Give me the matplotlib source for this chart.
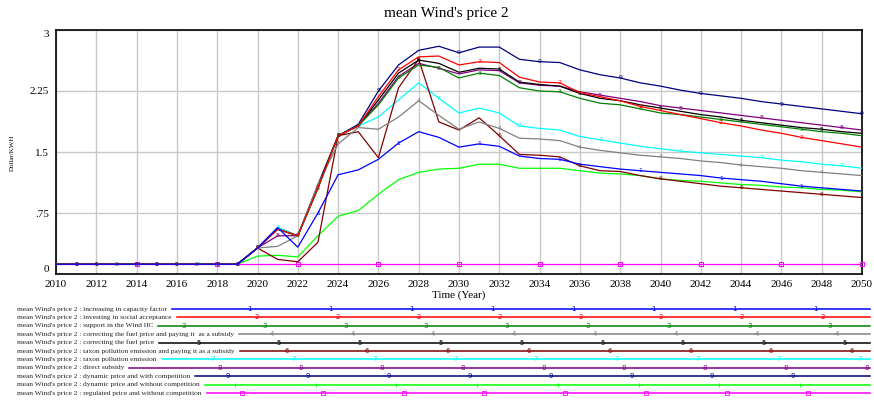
import numpy as np
import matplotlib
matplotlib.use('Agg')
import matplotlib.pyplot as plt

plt.rcParams['font.family'] = ['Liberation Serif', 'DejaVu Serif']

years = list(range(2010, 2051))

# values 2010..2050 (Dollar/KWH)
s1 = [0.12, 0.12, 0.12, 0.12, 0.12, 0.12, 0.12, 0.12, 0.12, 0.12,
      0.32, 0.57, 0.33, 0.75, 1.22, 1.28, 1.41, 1.61, 1.75, 1.68,
      1.56, 1.60, 1.57, 1.45, 1.42, 1.41, 1.35, 1.32, 1.29, 1.27,
      1.25, 1.23, 1.21, 1.18, 1.16, 1.14, 1.11, 1.08, 1.06, 1.04, 1.02]
s2 = [0.12, 0.12, 0.12, 0.12, 0.12, 0.12, 0.12, 0.12, 0.12, 0.12,
      0.32, 0.55, 0.47, 1.06, 1.70, 1.82, 2.18, 2.51, 2.67, 2.68,
      2.57, 2.61, 2.60, 2.42, 2.36, 2.35, 2.23, 2.18, 2.13, 2.06,
      2.01, 1.96, 1.91, 1.86, 1.82, 1.77, 1.73, 1.68, 1.64, 1.60, 1.56]
s3 = [0.12, 0.12, 0.12, 0.12, 0.12, 0.12, 0.12, 0.12, 0.12, 0.12,
      0.32, 0.55, 0.47, 1.05, 1.70, 1.82, 2.08, 2.41, 2.57, 2.54,
      2.41, 2.47, 2.44, 2.29, 2.25, 2.24, 2.16, 2.10, 2.08, 2.03,
      1.98, 1.96, 1.93, 1.90, 1.87, 1.84, 1.81, 1.78, 1.75, 1.73, 1.70]
s4 = [0.12, 0.12, 0.12, 0.12, 0.12, 0.12, 0.12, 0.12, 0.12, 0.12,
      0.32, 0.34, 0.47, 1.10, 1.60, 1.80, 1.78, 1.93, 2.13, 1.95,
      1.78, 1.87, 1.79, 1.67, 1.66, 1.64, 1.56, 1.52, 1.49, 1.46,
      1.44, 1.42, 1.39, 1.37, 1.34, 1.32, 1.30, 1.27, 1.25, 1.23, 1.21]
s5 = [0.12, 0.12, 0.12, 0.12, 0.12, 0.12, 0.12, 0.12, 0.12, 0.12,
      0.32, 0.55, 0.47, 1.08, 1.70, 1.82, 2.14, 2.47, 2.63, 2.59,
      2.48, 2.53, 2.52, 2.36, 2.33, 2.31, 2.22, 2.16, 2.13, 2.08,
      2.04, 2.00, 1.96, 1.93, 1.89, 1.86, 1.83, 1.80, 1.78, 1.75, 1.73]
s6 = [0.12, 0.12, 0.12, 0.12, 0.12, 0.12, 0.12, 0.12, 0.12, 0.12,
      0.32, 0.18, 0.15, 0.39, 1.70, 1.75, 1.43, 2.29, 2.64, 1.87,
      1.77, 1.92, 1.70, 1.47, 1.46, 1.44, 1.33, 1.27, 1.26, 1.21,
      1.17, 1.14, 1.11, 1.08, 1.06, 1.04, 1.02, 1.00, 0.98, 0.96, 0.94]
s7 = [0.12, 0.12, 0.12, 0.12, 0.12, 0.12, 0.12, 0.12, 0.12, 0.12,
      0.32, 0.57, 0.47, 1.05, 1.70, 1.82, 1.93, 2.14, 2.35, 2.16,
      1.98, 2.04, 1.98, 1.82, 1.79, 1.77, 1.69, 1.65, 1.61, 1.57,
      1.54, 1.51, 1.49, 1.47, 1.45, 1.43, 1.40, 1.38, 1.35, 1.33, 1.30]
s8 = [0.12, 0.12, 0.12, 0.12, 0.12, 0.12, 0.12, 0.12, 0.12, 0.12,
      0.32, 0.47, 0.47, 1.06, 1.70, 1.82, 2.10, 2.43, 2.59, 2.53,
      2.46, 2.51, 2.50, 2.35, 2.32, 2.31, 2.24, 2.20, 2.16, 2.12,
      2.07, 2.04, 2.01, 1.98, 1.95, 1.92, 1.89, 1.86, 1.83, 1.80, 1.77]
s9 = [0.12, 0.12, 0.12, 0.12, 0.12, 0.12, 0.12, 0.12, 0.12, 0.12,
      0.32, 0.57, 0.47, 1.10, 1.70, 1.84, 2.25, 2.57, 2.75, 2.80,
      2.72, 2.79, 2.79, 2.64, 2.61, 2.60, 2.51, 2.45, 2.41, 2.35,
      2.31, 2.26, 2.22, 2.19, 2.16, 2.12, 2.09, 2.06, 2.03, 2.00, 1.97]
s10 = [0.12, 0.12, 0.12, 0.12, 0.12, 0.12, 0.12, 0.12, 0.12, 0.12,
       0.22, 0.23, 0.21, 0.47, 0.71, 0.78, 0.98, 1.16, 1.25, 1.29,
       1.30, 1.35, 1.35, 1.30, 1.30, 1.30, 1.27, 1.24, 1.23, 1.21,
       1.17, 1.15, 1.14, 1.12, 1.10, 1.09, 1.07, 1.06, 1.04, 1.03, 1.01]
s11 = [0.12, 0.12, 0.12, 0.12, 0.12, 0.12, 0.12, 0.12, 0.12, 0.12,
       0.12, 0.12, 0.12, 0.12, 0.12, 0.12, 0.12, 0.12, 0.12, 0.12,
       0.12, 0.12, 0.12, 0.12, 0.12, 0.12, 0.12, 0.12, 0.12, 0.12,
       0.12, 0.12, 0.12, 0.12, 0.12, 0.12, 0.12, 0.12, 0.12, 0.12, 0.12]

names = ["increasing in capacity factor", "investing in social acceptance",
         "support in the Wind IIC",
         "correcting the fuel price and paying it  as a subsidy",
         "correcting the fuel price",
         "taxon pollution emission and paying it as a subsidy",
         "taxon pollution emission", "direct subsidy",
         "dynamic price and with competition",
         "dynamic price and without competition",
         "regulated price and without competition"]
series = [s1, s2, s3, s4, s5, s6, s7, s8, s9, s10, s11]
colors = ['#0000ff', '#ff0000', '#008000', '#808080', '#000000', '#800000',
          '#00ffff', '#800080', '#000080', '#00ff00', '#ff00ff']
marks = ['1', '2', '3', '4', '5', '6', '7', '8', '9', None, 's']
mark_start = [2011, 2011, 2011, 2012, 2012, 2012, 2013, 2013, 2014, None, 2014]

yticks = [0, 0.75, 1.5, 2.25, 3]
ytick_labels = ['0', '.75', '1.5', '2.25', '3']
xticks = list(range(2010, 2051, 2))

fig = plt.figure(figsize=(8.74, 4.0), dpi=100)
ax = fig.add_axes([56/874, 1-274/400, (862-56)/874, (274-30)/400])

# draw in reverse so series 1 ends up on top
for i in reversed(range(len(series))):
    ax.plot(years, series[i], color=colors[i], lw=0.9, zorder=3 + 11 - i)
    if marks[i] is None:
        continue
    for yr in range(mark_start[i], 2051, 4):
        v = series[i][years.index(yr)]
        if marks[i] == 's':
            ax.plot([yr], [v], marker='s', ms=3.2, mfc='none', mec=colors[i],
                    mew=0.7, zorder=3 + 11 - i, clip_on=False)
        else:
            ax.text(yr, v, marks[i], color=colors[i], fontsize=4.5,
                    family='DejaVu Sans', ha='center', va='center',
                    zorder=3 + 11 - i)

ax.set_xlim(2010, 2050)
ax.set_ylim(0, 3)
ax.set_xticks(xticks)
ax.set_yticks(yticks)
ax.set_yticklabels(ytick_labels)
ax.tick_params(length=0, labelsize=8, pad=4)
ax.tick_params(axis='y', pad=5)
ylabs = ax.get_yticklabels()
ylabs[0].set_va('bottom')
ylabs[-1].set_va('top')
ax.grid(True, color='#c8c8c8', lw=1)
ax.set_axisbelow(True)
for sp in ax.spines.values():
    sp.set_color('black')
    sp.set_linewidth(1.2)

fig.text(446/874, 1-13/400, "mean Wind's price 2", ha='center', va='center',
         fontsize=11)
fig.text(459/874, 1-295/400, "Time (Year)", ha='center', va='center',
         fontsize=8)
fig.text(12/874, 1-153/400, "Dollar/KWH", ha='center', va='center',
         fontsize=5, rotation=90)

# legend block below the chart, in pixel coordinates
lg = fig.add_axes([0, 0, 1, 1], zorder=-1)
lg.set_xlim(0, 874)
lg.set_ylim(400, 0)
lg.axis('off')
lg.patch.set_alpha(0)

texts = []
for k, nm in enumerate(names):
    yrow = 309 + 8.4 * k
    t = lg.text(17, yrow, "mean Wind's price 2 : " + nm, fontsize=5.3,
                color='#222222', ha='left', va='center')
    texts.append(t)

fig.canvas.draw()
rend = fig.canvas.get_renderer()
for k, t in enumerate(texts):
    yrow = 309 + 8.4 * k
    x0 = t.get_window_extent(rend).x1 + 5
    lg.plot([x0, 870], [yrow, yrow], color=colors[k], lw=1.1)
    pos = 169 + 7.3 * k
    while pos < 872:
        if pos > x0 + 2:
            if marks[k] == 's':
                lg.plot([pos], [yrow], marker='s', ms=3.0, mfc='none',
                        mec=colors[k], mew=0.6)
            elif marks[k] is None:
                lg.plot([pos], [yrow], marker='|', ms=2.5, color=colors[k],
                        mew=0.6)
            else:
                lg.text(pos, yrow, marks[k], color=colors[k], fontsize=5,
                        family='DejaVu Sans', ha='center', va='center')
        pos += 80.8

fig.savefig('out.png', dpi=100)
